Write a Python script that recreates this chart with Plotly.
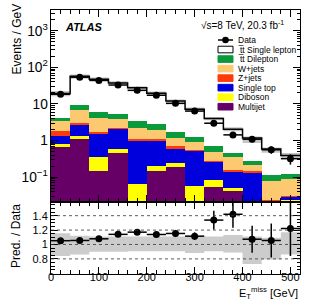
import plotly.graph_objects as go

# ---------------- data ----------------
bin_edges = [0, 40, 80, 120, 160, 200, 240, 280, 320, 360, 400, 440, 480, 520]
bin_centers = [20, 60, 100, 140, 180, 220, 260, 300, 340, 380, 420, 460, 500]
bin_half = [20, 20, 20, 20, 20, 20, 20, 20, 20, 20, 20, 20, 20]

data = [18.5, 54, 44, 33, 23.6, 17.3, 10.4, 6.4, 2.98, 1.43, 1.09, 0.56, 0.32]
data_err = [0.5, 1.0, 0.9, 0.8, 0.6, 0.55, 0.45, 0.3, 0.29, 0.19, 0.19, 0.125, 0.1]

multijet = [0.66, 1.09, 0.149, 0.45, 0, 0.149, 0.184, 0, 0.054, 0.043, 0, 0, 0]
diboson = [0.15, 0.28, 0.20, 0.14, 0.066, 0.047, 0.056, 0.059, 0.029, 0.009, 0, 0, 0.024]
single_top = [0.56, 1.31, 1.24, 1.49, 0.934, 0.804, 0.38, 0.471, 0.185, 0.094, 0.137, 0.02, 0.005]
z_jets = [0.47, 0.41, 0.10, 0.09, 0.07, 0.07, 0.07, 0.03, 0.012, 0.006, 0.006, 0.003, 0.001]
w_jets = [1.60, 3.77, 2.55, 1.66, 1.19, 0.89, 0.52, 0.36, 0.22, 0.198, 0.067, 0.053, 0.059]
tt_dilepton = [0.63, 2.24, 1.93, 1.51, 1.18, 0.84, 0.48, 0.32, 0.22, 0.10, 0.07, 0.035, 0.032]
tt_single_lepton = [15.4, 47.9, 41.3, 32.3, 24.2, 16.9, 10.3, 5.9, 3.27, 1.58, 0.89, 0.48, 0.27]

# relative systematic uncertainty of the prediction (up / down)
unc_up = [0.155, 0.12, 0.11, 0.11, 0.11, 0.11, 0.11, 0.12, 0.11, 0.13, 0.11, 0.095, 0.17]
unc_down = [0.16, 0.14, 0.10, 0.10, 0.095, 0.095, 0.095, 0.12, 0.095, 0.11, 0.27, 0.21, 0.14]

ratio_grid = [0.8, 1.0, 1.2, 1.4]
ratio_labels = ["0.8", "1", "1.2", "1.4"]

# ---------------- derived ----------------
components = [
    ("Multijet", multijet, "#660066"),
    ("Diboson", diboson, "#ffff00"),
    ("Single top", single_top, "#0000dd"),
    ("Z+jets", z_jets, "#ff3a0a"),
    ("W+jets", w_jets, "#fcc870"),
    ("t\u0305t Dilepton", tt_dilepton, "#0a9a3c"),
    ("t\u0305t Single lepton", tt_single_lepton, "#ffffff"),
]
n = len(bin_centers)
total = [sum(c[1][i] for c in components) for i in range(n)]
ratio = [total[i] / data[i] for i in range(n)]
ratio_err = [ratio[i] * data_err[i] / data[i] for i in range(n)]

FONT = "Liberation Sans, Arial, Helvetica, sans-serif"

fig = go.Figure()

for name, vals, col in components:
    fig.add_trace(go.Bar(x=bin_centers, y=vals, width=40, name=name,
                         marker=dict(color=col, line=dict(width=0)),
                         xaxis="x", yaxis="y", showlegend=False))

step_x = bin_edges
# main MC uncertainty band
fig.add_trace(go.Scatter(x=step_x, y=[total[i] * (1 - unc_down[i]) for i in range(n)] + [total[-1] * (1 - unc_down[-1])],
                         mode="lines", line=dict(width=0, shape="hv"), xaxis="x", yaxis="y",
                         showlegend=False, hoverinfo="skip"))
fig.add_trace(go.Scatter(x=step_x, y=[total[i] * (1 + unc_up[i]) for i in range(n)] + [total[-1] * (1 + unc_up[-1])],
                         mode="lines", line=dict(width=0, shape="hv"), fill="tonexty",
                         fillcolor="rgba(150,150,150,0.55)", xaxis="x", yaxis="y",
                         showlegend=False, hoverinfo="skip"))
# total step line
fig.add_trace(go.Scatter(x=step_x, y=total + [total[-1]], mode="lines",
                         line=dict(color="black", width=1.5, shape="hv"),
                         xaxis="x", yaxis="y", showlegend=False))
# data main
fig.add_trace(go.Scatter(x=bin_centers, y=data, mode="markers",
                         marker=dict(color="black", size=7),
                         error_x=dict(type="data", array=bin_half, color="black", thickness=1.5, width=0),
                         error_y=dict(type="data", array=data_err, color="black", thickness=1.5, width=0),
                         xaxis="x", yaxis="y", showlegend=False))

# ratio band
fig.add_trace(go.Scatter(x=step_x, y=[1 - u for u in unc_down] + [1 - unc_down[-1]],
                         mode="lines", line=dict(width=0, shape="hv"), xaxis="x2", yaxis="y2",
                         showlegend=False, hoverinfo="skip"))
fig.add_trace(go.Scatter(x=step_x, y=[1 + u for u in unc_up] + [1 + unc_up[-1]],
                         mode="lines", line=dict(width=0, shape="hv"), fill="tonexty",
                         fillcolor="#cccccc", xaxis="x2", yaxis="y2",
                         showlegend=False, hoverinfo="skip"))
# ratio points
fig.add_trace(go.Scatter(x=bin_centers, y=ratio, mode="markers",
                         marker=dict(color="black", size=7),
                         error_x=dict(type="data", array=bin_half, color="black", thickness=1.5, width=0),
                         error_y=dict(type="data", array=ratio_err, color="black", thickness=1.5, width=0),
                         xaxis="x2", yaxis="y2", showlegend=False))

# ---------------- layout ----------------
W, H = 316, 303
ML, MR, MT, MB = 51, 16, 10, 29
PW, PH = W - ML - MR, H - MT - MB
split = 72 / PH


def px(x):
    return (x - ML) / PW


def py(y):
    return (H - MB - y) / PH


axis_common = dict(showline=True, linecolor="black", linewidth=1, mirror="allticks",
                   ticks="inside", tickcolor="black", showgrid=False, zeroline=False,
                   tickfont=dict(family=FONT, size=11, color="black"))

fig.update_layout(
    width=W, height=H, margin=dict(l=ML, r=MR, t=MT, b=MB),
    paper_bgcolor="white", plot_bgcolor="white",
    barmode="stack", bargap=0, showlegend=False,
    font=dict(family=FONT, color="black"),
    xaxis=dict(domain=[0, 1], anchor="y", range=[0, 520], tick0=0, dtick=100, ticklen=7,
               showticklabels=False, matches="x2",
               minor=dict(ticks="inside", dtick=20, ticklen=4, tickcolor="black"), **axis_common),
    yaxis=dict(domain=[split, 1], anchor="x", type="log", range=[-1.68, 3.57], dtick=1,
               exponentformat="power", ticklen=7,
               minor=dict(ticks="inside", dtick="D1", ticklen=3.5, tickcolor="black"), **axis_common),
    xaxis2=dict(domain=[0, 1], anchor="y2", range=[0, 520], tick0=0, dtick=100, ticklen=7,
                ticklabelstandoff=-7,
                minor=dict(ticks="inside", dtick=20, ticklen=4, tickcolor="black"), **axis_common),
    yaxis2=dict(domain=[0, split], anchor="x2", range=[0.59, 1.59], tickvals=ratio_grid,
                ticktext=ratio_labels, ticklen=7,
                minor=dict(ticks="inside", dtick=0.05, ticklen=3.5, tickcolor="black"), **axis_common),
)

shapes = []
for g in ratio_grid:
    shapes.append(dict(type="line", xref="x2 domain", yref="y2", x0=0, x1=1, y0=g, y1=g,
                       line=dict(color="#333333", width=0.8, dash="dot"), layer="above"))

annotations = []
# axis titles
annotations.append(dict(text="Events / GeV", xref="paper", yref="paper", x=px(16), y=py(2),
                        xanchor="center", yanchor="top", textangle=-90, showarrow=False,
                        font=dict(family=FONT, size=12, color="black")))
annotations.append(dict(text="Pred. / Data", xref="paper", yref="paper", x=px(16), y=py(236),
                        xanchor="center", yanchor="middle", textangle=-90, showarrow=False,
                        font=dict(family=FONT, size=12, color="black")))
annotations.append(dict(text="E<sub>T</sub><sup>miss</sup> [GeV]", xref="paper", yref="paper",
                        x=1.0, y=py(293), xanchor="right", yanchor="middle", showarrow=False,
                        font=dict(family=FONT, size=11, color="black")))
# labels
annotations.append(dict(text="<b><i>ATLAS</i></b>", xref="paper", yref="paper", x=px(63), y=py(27),
                        xanchor="left", yanchor="middle", showarrow=False,
                        font=dict(family=FONT, size=11, color="black")))
annotations.append(dict(text="\u221as=8 TeV, 20.3 fb<sup>-1</sup>", xref="paper", yref="paper",
                        x=px(286), y=py(25), xanchor="right", yanchor="middle", showarrow=False,
                        font=dict(family=FONT, size=10, color="black")))

# manual legend
legend_entries = [("Data", None)] + [(c[0], c[2]) for c in reversed(components)]
y0 = 40.0
dy = 9.53
bx0, bx1 = 218, 233
for i, (name, col) in enumerate(legend_entries):
    yc = y0 + dy * i
    if col is None:
        shapes.append(dict(type="line", xref="paper", yref="paper", x0=px(bx0), x1=px(bx1),
                           y0=py(yc), y1=py(yc), line=dict(color="black", width=1.5)))
        shapes.append(dict(type="circle", xref="paper", yref="paper", xsizemode="pixel",
                           ysizemode="pixel", xanchor=px((bx0 + bx1) / 2), yanchor=py(yc),
                           x0=-3.3, x1=3.3, y0=-3.3, y1=3.3, fillcolor="black",
                           line=dict(color="black", width=0)))
    else:
        lc = "black" if col == "#ffffff" else col
        shapes.append(dict(type="rect", xref="paper", yref="paper", x0=px(bx0), x1=px(bx1),
                           y0=py(yc + 3.3), y1=py(yc - 3.3), fillcolor=col,
                           line=dict(color=lc, width=1)))
    annotations.append(dict(text=name, xref="paper", yref="paper", x=px(235.5), y=py(yc),
                            xanchor="left", yanchor="middle", showarrow=False,
                            font=dict(family=FONT, size=8.5, color="black")))

fig.update_layout(shapes=shapes, annotations=annotations)

fig.write_html("out.html", config={"displayModeBar": False},
               post_script="document.body.style.margin='0';document.body.style.padding='0';")
